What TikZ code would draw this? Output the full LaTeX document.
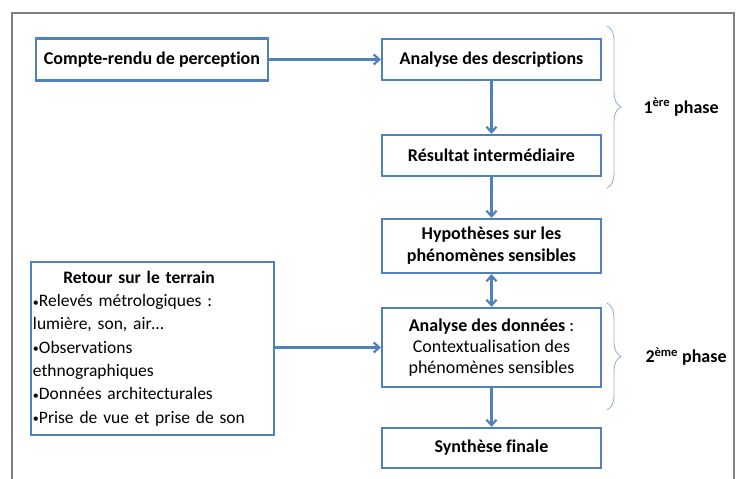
\documentclass[tikz,border=0pt]{standalone}
\usepackage{fontspec}
\setmainfont{Carlito}[Ligatures=NoCommon]
\usetikzlibrary{arrows.meta,decorations.pathreplacing}
\definecolor{boxblue}{HTML}{4F81BD}
\definecolor{braceblue}{HTML}{95B3D7}
\definecolor{framegray}{HTML}{808080}
\newcommand{\smallbullet}{\raisebox{0.5bp}{\fontsize{12bp}{12bp}\selectfont•}}
\tikzset{
  stepbox/.style={draw=boxblue, line width=2.3bp, fill=white, inner sep=2bp,
    font=\fontsize{18bp}{21bp}\selectfont, align=center},
  boldbox/.style={stepbox, font=\fontsize{18bp}{22bp}\selectfont\bfseries},
  barb/.tip={Straight Barb[length=5.5bp,width=10bp,line width=2.2bp]},
  flow/.style={draw=boxblue, line width=2.2bp, -barb},
  phasebrace/.style={draw=braceblue, line width=0.9bp,
    decorate, decoration={brace, amplitude=14bp}},
  phaselabel/.style={anchor=west, font=\fontsize{18bp}{20bp}\selectfont\bfseries}
}
\begin{document}
\begin{tikzpicture}[x=1bp,y=-1bp]
\useasboundingbox (0,0) rectangle (739,479);
% outer frame, open at the bottom
\draw[framegray, line width=1.4bp] (12,479) -- (12,13) -- (734,13) -- (734,479);

% boxes
\node[boldbox, minimum width=232bp, minimum height=42bp]
  (compte) at (152,59.5) {Compte-rendu de perception};
\node[boldbox, minimum width=219bp, minimum height=41bp]
  (descr) at (491.5,59.5) {Analyse des descriptions};
\node[boldbox, minimum width=219bp, minimum height=41bp]
  (inter) at (491.5,155.5) {Résultat intermédiaire};
\node[boldbox, minimum width=219bp, minimum height=54bp]
  (hypo) at (491.5,246) {Hypothèses sur les\\phénomènes sensibles};
\node[stepbox, minimum width=219bp, minimum height=79bp]
  (donnees) at (491.5,347.5) {\textbf{Analyse des données} :\\Contextualisation des\\phénomènes sensibles};
\node[boldbox, minimum width=219bp, minimum height=40bp]
  (synth) at (491.5,448) {Synthèse finale};
\node[stepbox, minimum width=243bp, minimum height=173bp, text width=239bp, align=left,
  font=\fontsize{17.5bp}{23.3bp}\selectfont]
  (retour) at (152.5,348.5) {\makebox[212bp]{\bfseries Retour sur le terrain}\\
  \smallbullet Relevés métrologiques :\\
  lumière, son, air…\\
  \smallbullet Observations\\
  ethnographiques\\
  \smallbullet Données architecturales\\
  \smallbullet Prise de vue et prise de son};

% connectors
\draw[flow] (compte.east) -- (descr.west);
\draw[flow] (descr.south) -- (inter.north);
\draw[flow] (inter.south) -- (hypo.north);
\draw[flow, barb-barb] (hypo.south) -- (donnees.north);
\draw[flow] (retour.east |- donnees.west) -- (donnees.west);
\draw[flow] (donnees.south) -- (synth.north);

% phase braces
\coordinate (b1top) at (607,26);
\coordinate (b1bot) at (607,188);
\coordinate (b2top) at (607,303);
\coordinate (b2bot) at (607,410);
\draw[phasebrace] (b1top) -- (b1bot);
\draw[phasebrace] (b2top) -- (b2bot);
\node[phaselabel] (phase1) at (640,107) {1\textsuperscript{ère} phase};
\node[phaselabel] (phase2) at (642,356.5) {2\textsuperscript{ème} phase};
\end{tikzpicture}
\end{document}
